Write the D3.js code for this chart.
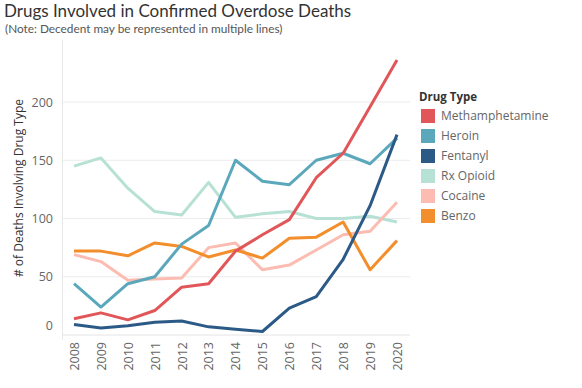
<!DOCTYPE html>
<html>
<head>
<meta charset="utf-8">
<script src="https://cdn.jsdelivr.net/npm/d3@7"></script>
<style>
  body { margin: 0; background: #fff; }
  text { font-family: 'Open Sans', 'Noto Sans', sans-serif; }
</style>
</head>
<body>
<div id="chart"></div>
<script>
const years = [2008, 2009, 2010, 2011, 2012, 2013, 2014, 2015, 2016, 2017, 2018, 2019, 2020]
const drugs = ['Methamphetamine', 'Heroin', 'Fentanyl', 'Rx Opioid', 'Cocaine', 'Benzo']
const colors = ['#e15759', '#5ba8bc', '#2c5a87', '#b6e1d4', '#fcbcb1', '#f28e2b']

const meth = [14, 19, 13, 21, 41, 44, 72, 86, 99, 135, 156, 196, 236]
const heroin = [44, 24, 44, 50, 78, 94, 150, 132, 129, 150, 156, 147, 169]
const fentanyl = [9, 6, 8, 11, 12, 7, 5, 3, 23, 33, 65, 111, 172]
const rxOpioid = [145, 152, 126, 106, 103, 131, 101, 104, 106, 100, 100, 102, 97]
const cocaine = [69, 63, 47, 48, 49, 75, 79, 56, 60, 73, 86, 89, 114]
const benzo = [72, 72, 68, 79, 76, 67, 73, 66, 83, 84, 97, 56, 81]
const yTicks = [0, 50, 100, 150, 200]

const series = [meth, heroin, fentanyl, rxOpioid, cocaine, benzo]
const drawOrder = [3, 4, 5, 1, 0, 2]

const W = 582, H = 388
const svg = d3.select('#chart').append('svg')
  .attr('width', W).attr('height', H)

// title
svg.append('text')
  .attr('x', 4).attr('y', 17)
  .attr('font-size', 17).attr('fill', '#333')
  .style('font-family', "Lato, 'Open Sans', sans-serif")
  .text('Drugs Involved in Confirmed Overdose Deaths')
svg.append('text')
  .attr('x', 5).attr('y', 33)
  .attr('font-size', 11.8).attr('fill', '#555')
  .style('font-family', "Lato, 'Open Sans', sans-serif")
  .text('(Note: Decedent may be represented in multiple lines)')

const x = d3.scalePoint().domain(years).range([74, 397])
const y = d3.scaleLinear().domain([0, 200]).range([335, 102])

// gridlines
svg.append('g')
  .selectAll('line')
  .data(yTicks)
  .join('line')
  .attr('x1', 62).attr('x2', 410)
  .attr('y1', d => y(d)).attr('y2', d => y(d))
  .attr('stroke', d => d === 0 ? '#e4e4e4' : '#ececec')
  .attr('stroke-width', 1)

svg.append('line')
  .attr('x1', 62.5).attr('x2', 62.5)
  .attr('y1', 40).attr('y2', 340)
  .attr('stroke', '#e8e8e8')

// y axis (Tableau pulls the edge label inside the pane)
const yAxis = svg.append('g')
  .attr('transform', 'translate(62,0)')
  .call(d3.axisLeft(y).tickValues(yTicks).tickSize(0).tickPadding(9))
yAxis.select('.domain').remove()
yAxis.selectAll('text')
  .attr('font-size', 12.5).attr('fill', '#666')
  .style('font-family', "'Open Sans', 'Noto Sans', sans-serif")
  .attr('dy', d => d === 0 ? '-0.45em' : '0.32em')

svg.append('text')
  .attr('transform', 'translate(23,' + 188 + ') rotate(-90)')
  .attr('text-anchor', 'middle')
  .attr('font-size', 12).attr('fill', '#333')
  .text('# of Deaths Involving Drug Type')

// x axis
const xAxis = svg.append('g')
  .attr('transform', 'translate(0,338)')
  .call(d3.axisBottom(x).tickSize(0).tickPadding(4))
xAxis.select('.domain').remove()
xAxis.selectAll('text')
  .attr('font-size', 12.5).attr('fill', '#666')
  .style('font-family', "'Open Sans', 'Noto Sans', sans-serif")
  .attr('text-anchor', 'end')
  .attr('transform', 'rotate(-90)')
  .attr('x', -4).attr('y', 0).attr('dy', '0.35em')

// lines
const line = d3.line()
  .x((d, i) => x(years[i]))
  .y(d => y(d))

svg.append('g')
  .selectAll('path')
  .data(drawOrder)
  .join('path')
  .attr('d', i => line(series[i]))
  .attr('fill', 'none')
  .attr('stroke', i => colors[i])
  .attr('stroke-width', 3)
  .attr('stroke-linejoin', 'round')

// legend
const legend = svg.append('g').attr('transform', 'translate(419,0)')
legend.append('text')
  .attr('x', 0).attr('y', 101)
  .attr('font-size', 11.5).attr('font-weight', 'bold').attr('fill', '#333')
  .text('Drug Type')

const item = legend.selectAll('g.item')
  .data(drugs)
  .join('g')
  .attr('class', 'item')
  .attr('transform', (d, i) => 'translate(0,' + (116 + i * 20) + ')')
item.append('rect')
  .attr('x', 2).attr('y', -7)
  .attr('width', 14).attr('height', 14)
  .attr('fill', (d, i) => colors[i])
item.append('text')
  .attr('x', 22).attr('y', 0).attr('dy', '0.35em')
  .attr('font-size', 12).attr('fill', '#666')
  .text(d => d)
</script>
</body>
</html>
